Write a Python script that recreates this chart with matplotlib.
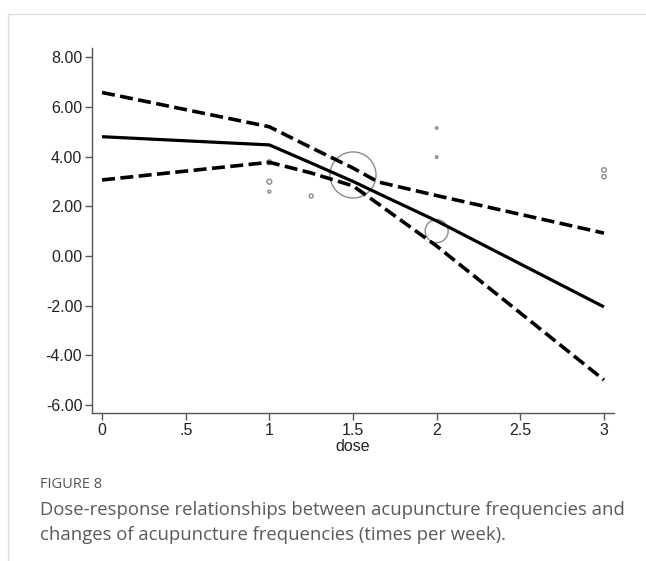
import matplotlib.pyplot as plt
import numpy as np

# fitted dose-response curve and 95% bounds
dose = [0, 1, 1.25, 1.5, 1.65, 2, 3]
fit = [4.80, 4.47, 3.74, 3.00, 2.52, 1.41, -2.05]
upper = [6.58, 5.20, 4.36, 3.54, 2.98, 2.43, 0.92]
lower = [3.06, 3.77, 3.34, 2.82, 2.10, 0.40, -4.99]

# study points (weight drives marker size)
pt_dose = [1, 1, 1, 1.25, 1.5, 2, 2, 2, 3, 3]
pt_effect = [3.77, 2.99, 2.59, 2.41, 3.26, 1.00, 5.15, 3.98, 3.46, 3.19]
pt_weight = [0.45, 0.45, 0.15, 0.3, 40, 10, 0.12, 0.12, 0.4, 0.35]

xticks = [0, 0.5, 1, 1.5, 2, 2.5, 3]
xlabels = ['0', '.5', '1', '1.5', '2', '2.5', '3']
yticks = [-6, -4, -2, 0, 2, 4, 6, 8]

fig = plt.figure(figsize=(6.46, 5.61), dpi=100)
ax = fig.add_axes([92/646, 1-413/561, (614-92)/646, (413-48)/561])

ax.scatter(pt_dose, pt_effect, s=np.array(pt_weight)*27.5, facecolors='none',
           edgecolors='#8a8a8a', linewidths=1.0, zorder=1)
ax.plot(dose, fit, color='black', lw=2.3, solid_capstyle='butt', zorder=3)
ax.plot(dose, upper, color='black', lw=2.6, dashes=(3.6, 1.5), dash_capstyle='butt', zorder=3)
ax.plot(dose, lower, color='black', lw=2.6, dashes=(3.6, 1.5), dash_capstyle='butt', zorder=3)

ax.set_xlim(-0.06, 3.06)
ax.set_ylim(-6.32, 8.37)
ax.set_xticks(xticks, xlabels)
ax.set_yticks(yticks, ['%.2f' % v for v in yticks])
for s in ['top', 'right']:
    ax.spines[s].set_visible(False)
for s in ['left', 'bottom']:
    ax.spines[s].set_color('#555555')
    ax.spines[s].set_linewidth(1.0)
ax.tick_params(direction='out', length=5, width=1, color='#555555',
               labelsize=11.5, labelcolor='#222222', pad=2)
for lab in ax.get_xticklabels() + ax.get_yticklabels():
    lab.set_family('Liberation Sans')
ax.set_xlabel('dose', family='Liberation Sans', fontsize=11.5, color='#222222', labelpad=1)

# page frame and caption
fig.add_artist(plt.Line2D([8/646, 1], [1-14/561, 1-14/561], color='#dddddd', lw=1))
fig.add_artist(plt.Line2D([8/646, 8/646], [0, 1-14/561], color='#dddddd', lw=1))
fig.text(40/646, 1-485/561, 'FIGURE 8', family='Open Sans', fontsize=10.5,
         color='#555555', va='center')
fig.text(40/646, 1-510/561, 'Dose-response relationships between acupuncture frequencies and',
         family='Open Sans', fontsize=13.3, color='#5a5a5a', va='center')
fig.text(40/646, 1-535/561, 'changes of acupuncture frequencies (times per week).',
         family='Open Sans', fontsize=13.3, color='#5a5a5a', va='center')

fig.savefig('out.png', dpi=100)
